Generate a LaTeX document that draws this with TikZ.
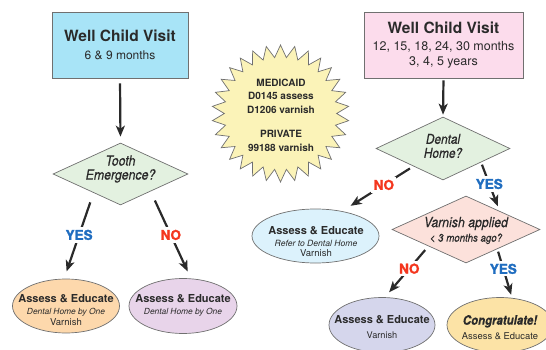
\documentclass[tikz,border=0pt]{standalone}
\usepackage{fontspec}
\setmainfont{TeX Gyre Heros}
\newfontfamily\condfont[FakeStretch=0.88,FakeBold=0.4]{TeX Gyre Heros}
\newfontfamily\heavyfont[FakeBold=1.6]{TeX Gyre Heros}
\usetikzlibrary{shapes.geometric,arrows.meta}
\definecolor{ink}{HTML}{2A2A2A}
\definecolor{edge}{HTML}{707070}
\definecolor{cyanbox}{HTML}{A8E4F7}
\definecolor{pinkbox}{HTML}{FCDCEC}
\definecolor{greendia}{HTML}{E3F1E0}
\definecolor{salmondia}{HTML}{FCE1DB}
\definecolor{peach}{HTML}{FDD8AC}
\definecolor{lilac}{HTML}{E8D4EA}
\definecolor{skyoval}{HTML}{DCF2FC}
\definecolor{lavender}{HTML}{D5D6EC}
\definecolor{gold}{HTML}{FCE3A6}
\definecolor{burst}{HTML}{FBF3B8}
\definecolor{yesblue}{HTML}{1F6DC0}
\definecolor{nored}{HTML}{F4361E}
\begin{document}
\begin{tikzpicture}[x=1pt,y=-1pt,
  box/.style={draw=edge, line width=0.7pt, rectangle, inner sep=0, align=center, text=ink},
  dia/.style={draw=edge, line width=0.7pt, diamond, inner sep=0},
  oval/.style={draw=edge, line width=0.7pt, ellipse, inner sep=0},
  txt/.style={align=center, text=ink, inner sep=0},
  flow/.style={draw=ink, line width=2.2pt, -{Stealth[length=11pt,width=9pt,inset=3pt]}},
  yes/.style={fill=white, text=yesblue, inner sep=2.5pt, font=\heavyfont\bfseries\fontsize{13.5}{14}\selectfont},
  no/.style={fill=white, text=nored, inner sep=2.5pt, font=\heavyfont\bfseries\fontsize{13.5}{14}\selectfont}]
\useasboundingbox (0,0) rectangle (546,350);

% ---- left branch: 6 & 9 month visits
\node[box, fill=cyanbox, minimum width=136pt, minimum height=66pt,
      font=\fontsize{12}{15}\selectfont] (lb) at (120,45)
  {{\bfseries\fontsize{15.5}{15}\selectfont Well Child Visit}\\[2.7pt]6 \& 9 months};
\node[dia, fill=greendia, minimum width=135pt, minimum height=62pt] (te) at (120.5,174) {};
\node[txt, font=\condfont\itshape\fontsize{14}{14}\selectfont] (tet) at (120.5,169) {Tooth\\Emergence?};
\node[oval, fill=peach, minimum width=107pt, minimum height=54pt] (e1) at (66,306) {};
\node[txt, font=\fontsize{9.5}{10.5}\selectfont] (e1t) at (66,310)
  {{\bfseries\fontsize{11}{11}\selectfont Assess \& Educate}\\[1.5pt]
   {\itshape\fontsize{8.4}{10}\selectfont Dental Home by One}\\Varnish};
\node[oval, fill=lilac, minimum width=108pt, minimum height=55pt] (e2) at (183,306) {};
\node[txt, font=\fontsize{8.4}{12}\selectfont] (e2t) at (183,305.5)
  {{\bfseries\fontsize{11}{11}\selectfont Assess \& Educate}\\
   {\itshape Dental Home by One}};

% ---- billing codes
\node[star, star points=30, star point ratio=1.22, minimum size=137pt, inner sep=0,
      draw=edge, line width=0.7pt, fill=burst] (sb) at (280.5,113.5) {};
\node[txt, font=\bfseries\fontsize{10}{13.5}\selectfont] (sbt) at (281,115)
  {MEDICAID\\D0145 assess\\D1206 varnish\\[11pt]PRIVATE\\99188 varnish};

% ---- right branch: 12 months to 5 years
\node[box, fill=pinkbox, minimum width=159pt, minimum height=66pt,
      font=\fontsize{12.5}{15}\selectfont] (rb) at (443.5,45)
  {{\bfseries\fontsize{15.5}{15}\selectfont Well Child Visit}\\[2pt]12, 15, 18, 24, 30 months\\3, 4, 5 years};
\node[dia, fill=greendia, minimum width=134pt, minimum height=63pt] (dh) at (443,148.5) {};
\node[txt, font=\condfont\itshape\fontsize{13.5}{14}\selectfont] (dht) at (443,146) {Dental\\Home?};
\node[oval, fill=skyoval, minimum width=127pt, minimum height=54pt] (e3) at (315.5,236) {};
\node[txt, font=\fontsize{9.5}{10.5}\selectfont] (e3t) at (316,241.5)
  {{\bfseries\fontsize{11}{11}\selectfont Assess \& Educate}\\[1.5pt]
   {\itshape\fontsize{8.6}{10}\selectfont Refer to Dental Home}\\Varnish};
\node[dia, fill=salmondia, minimum width=148pt, minimum height=67pt] (va) at (466,229.5) {};
\node[txt, font=\condfont\itshape\fontsize{11}{14.5}\selectfont] (vat) at (466,230.5)
  {{\fontsize{14}{14}\selectfont Varnish applied}\\< 3 months ago?};
\node[oval, fill=lavender, minimum width=106pt, minimum height=55pt] (e4) at (382,325) {};
\node[txt, font=\fontsize{9.2}{15}\selectfont] (e4t) at (382,327.5)
  {{\bfseries\fontsize{11}{11}\selectfont Assess \& Educate}\\Varnish};
\node[oval, fill=gold, minimum width=106pt, minimum height=55pt] (e5) at (500,325) {};
\node[txt, font=\fontsize{9.4}{15}\selectfont] (e5t) at (500,327.5)
  {{\condfont\bfseries\itshape\fontsize{13}{13}\selectfont Congratulate!}\\Assess \& Educate};

% ---- connectors
\draw[flow, shorten <=5pt, shorten >=6pt] (lb.south) -- (te.north);
\draw[flow, shorten <=10pt, shorten >=7.7pt] (te.215.6) -- node[yes, pos=0.49] (y1) {YES} (e1.94);
\draw[flow, shorten <=10pt, shorten >=7.7pt] (te.-30.6) -- node[no, pos=0.5] (n1) {NO} (e2.74);
\draw[flow, shorten <=2pt, shorten >=2pt] (rb.south) -- (dh.north);
\draw[flow, shorten <=4pt, shorten >=10pt] (dh.211.5) -- node[no, pos=0.415] (n2) {NO} (e3.43.5);
\draw[flow, shorten <=2.5pt, shorten >=5pt] (dh.-20.7) -- node[yes, pos=0.445] (y2) {YES} (va.29.9);
\draw[flow, shorten <=5pt, shorten >=6.5pt] (va.204.3) -- node[no, pos=0.44] (n3) {NO} (e4.84.2);
\draw[flow, shorten <=2.7pt, shorten >=3.2pt] (va.-32.4) -- node[yes, pos=0.406] (y3) {YES} (e5.66.1);
\end{tikzpicture}
\end{document}
